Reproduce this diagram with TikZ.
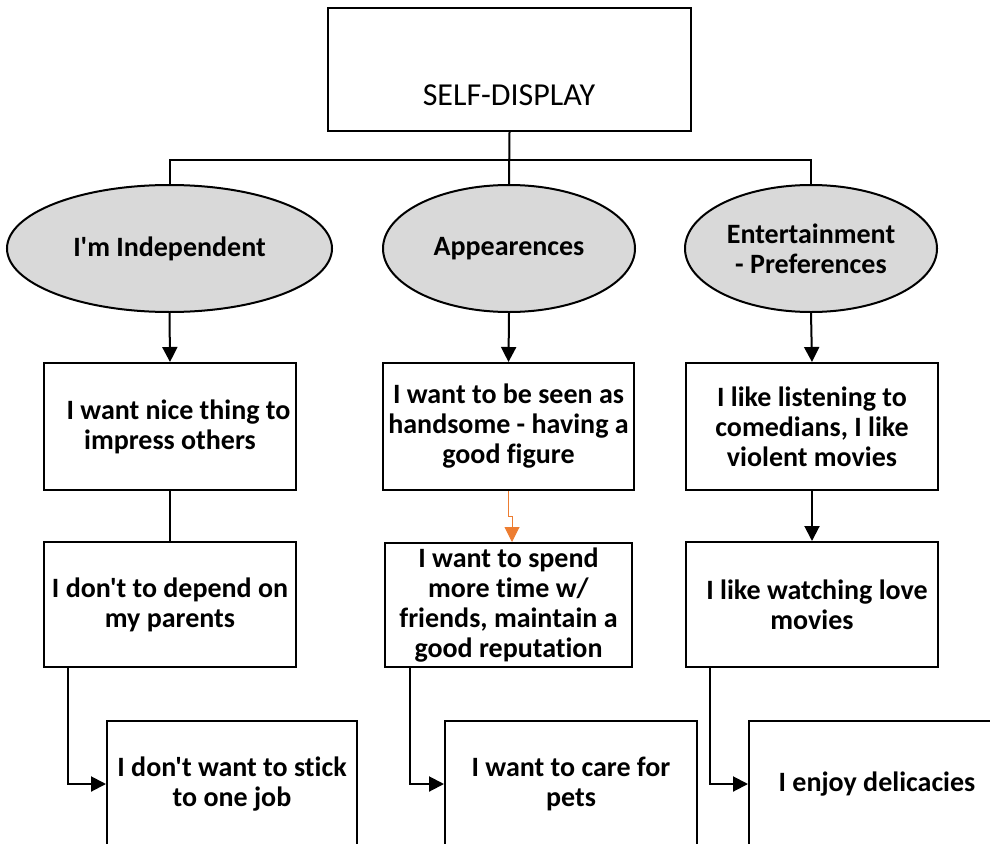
\documentclass[tikz,border=0pt]{standalone}
\usepackage{fontspec}
\setmainfont{Carlito}[Ligatures={TeXOff,NoCommon}]
\usetikzlibrary{arrows.meta,shapes.geometric,calc}
\definecolor{ovalgray}{HTML}{D9D9D9}
\definecolor{accent}{HTML}{ED7D31}
\tikzset{
  box/.style={draw, line width=2pt, rectangle, align=center, inner sep=0pt,
    font=\fontsize{28}{30}\selectfont\bfseries},
  oval/.style={draw, line width=2pt, ellipse, fill=ovalgray, align=center, inner sep=0pt,
    minimum height=127pt, font=\fontsize{28}{30}\selectfont\bfseries},
  conn/.style={line width=2pt},
  arr/.style={line width=2pt, -{Triangle[width=15pt,length=15pt]}},
  accentarr/.style={draw=accent, line width=1pt, -{Triangle[width=15pt,length=15pt,fill=accent]}},
}
\begin{document}
\begin{tikzpicture}[x=1pt,y=-1pt]
  \useasboundingbox (0,0) rectangle (990,843);
  \clip (0,0) rectangle (990,843);

  % title box
  \node[box, minimum width=363pt, minimum height=123pt] (top) at (509.5,69.5) {};
  \node[font=\fontsize{32}{34}\selectfont, inner sep=0pt] (toptitle) at (509,95) {SELF-DISPLAY};

  % category ovals
  \node[oval, minimum width=325pt] (e1) at (169.5,248.5) {I'm Independent};
  \node[oval, minimum width=252pt] (e2) at (509,248.5) {Appearences};
  \node[oval, minimum width=252pt] (e3) at (811,248.5) {Entertainment\\- Preferences};

  % second row
  \node[box, minimum width=252pt, minimum height=127pt] (b1) at (170,426.5)
    {\hspace*{17pt}I want nice thing to\\impress others};
  \node[box, minimum width=251pt, minimum height=127pt] (b2) at (508.5,426.5)
    {I want to be seen as\\handsome - having a\\good figure};
  \node[box, minimum width=252pt, minimum height=127pt] (b3) at (812,426.5)
    {I like listening to\\comedians, I like\\violent movies};

  % third row
  \node[box, minimum width=252pt, minimum height=125pt] (c1) at (170,604.5)
    {I don't to depend on\\my parents};
  \node[box, minimum width=247pt, minimum height=124pt] (c2) at (508.5,605)
    {I want to spend\\more time w/\\friends, maintain a\\good reputation};
  \node[box, minimum width=252pt, minimum height=125pt] (c3) at (812,604.5)
    {\hspace*{10pt}I like watching love\\movies};

  % fourth row
  \node[box, minimum width=250pt, minimum height=126pt] (d1) at (232,784)
    {I don't want to stick\\to one job};
  \node[box, minimum width=252pt, minimum height=126pt] (d2) at (571,784)
    {I want to care for\\pets};
  \node[box, minimum width=256pt, minimum height=126pt] (d3) at (877,784)
    {I enjoy delicacies};

  % branching from the title
  \coordinate (bar) at (509,160);
  \draw[conn] (top.south) -- (e2.north);
  \draw[conn] (e1.north) -- (e1.north |- bar) -- (e3.north |- bar) -- (e3.north);

  % ovals to second row
  \draw[arr] (e1.south) -- (b1.north);
  \draw[arr] (e2.south) -- (b2.north);
  \draw[arr] (e3.south) -- (b3.north);

  % second row to third row
  \draw[conn] (b1.south) -- (c1.north);
  \coordinate (jog) at (512,516);
  \draw[accentarr] (b2.south) |- (jog) -- (jog |- c2.north);
  \draw[arr] (b3.south) -- (c3.north);

  % third row to fourth row
  \draw[arr] ([xshift=25pt]c1.south west) |- (d1.west);
  \draw[arr] ([xshift=26pt]c2.south west) |- (d2.west);
  \draw[arr] ([xshift=25pt]c3.south west) |- (d3.west);
\end{tikzpicture}
\end{document}
